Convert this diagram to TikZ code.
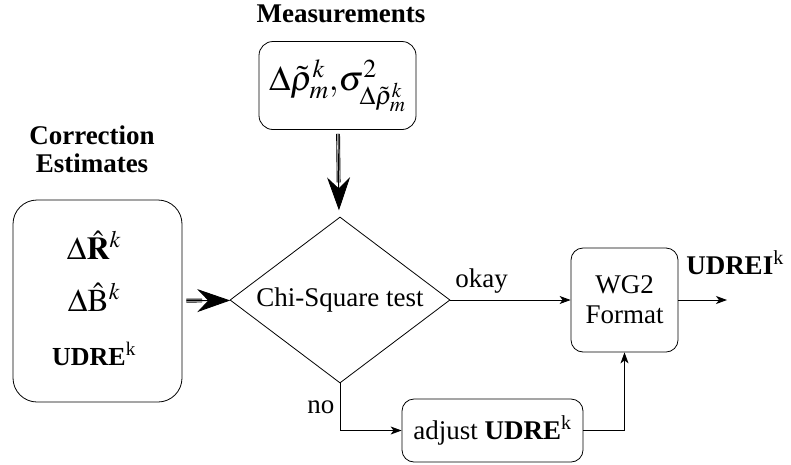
\documentclass[tikz,border=0pt]{standalone}
\usepackage{mathptmx}
\usepackage{fontspec}
\setmainfont{Liberation Serif}
\usetikzlibrary{shapes.geometric, arrows.meta, positioning}

\begin{document}
\begin{tikzpicture}[x=1pt, y=-1pt, font=\fontsize{27}{30}\selectfont,
        box/.style = {draw, rounded corners=12pt, line width=0.8pt, inner sep=0pt, align=center},
        test/.style = {draw, diamond, aspect=1.33, line width=0.8pt, inner sep=0pt, minimum width=220pt, minimum height=166pt},
        big/.style = {-{Stealth[length=33pt, width=23pt, inset=11pt]}, line width=0.9pt},
        trip/.style = {double, double distance=2pt, line width=0.9pt},
        flow/.style = {-{Stealth[length=11pt, width=8pt, inset=3pt]}, line width=0.8pt},
        head/.style = {font=\fontsize{27}{28}\selectfont\bfseries, align=center}]

        \useasboundingbox (0,0) rectangle (791,464);

        \node[box, minimum width=157pt, minimum height=88pt, rounded corners=14pt] (meas) at (337.5,85.5)
            {\fontsize{35}{38}\selectfont$\Delta\tilde{\rho}^k_m{,}\sigma^2_{\Delta\tilde{\rho}^k_m}$};
        \node[head] (mlab) at (341,14) {Measurements};

        \node[box, minimum width=169pt, minimum height=202pt, rounded corners=24pt] (corr) at (97.5,301) {};
        \node (rk) at (94,245) {\fontsize{32}{34}\selectfont$\Delta\hat{\mathbf{R}}^k$};
        \node (bk) at (94,297) {\fontsize{32}{34}\selectfont$\Delta\hat{\mathrm{B}}^k$};
        \node (uk) at (94,354) {\fontsize{26}{28}\selectfont\textbf{UDRE}\textsuperscript{k}};
        \node[head] (clab) at (92,149) {Correction\\Estimates};

        \node[test] (chi) at (340,300) {Chi-Square test};
        \node[box, minimum width=107pt, minimum height=104pt] (wg) at (624.5,300) {WG2\\Format};
        \node[box, minimum width=181pt, minimum height=63pt] (adj) at (492.5,430.5) {adjust \textbf{UDRE}\textsuperscript{k}};
        \coordinate (out) at (727,300);
        \node (udrei) at (735,263) {\textbf{UDREI}\textsuperscript{k}};

        \draw[trip, shorten <=4pt, shorten >=35pt] (meas) -- (chi);
        \draw[big, shorten <=4pt, shorten >=7pt] (meas) -- (chi);
        \draw[trip, shorten <=4pt, shorten >=28pt] (corr) -- (chi);
        \draw[big, shorten <=4pt] (corr) -- (chi);

        \draw[flow] (chi) -- (wg) node [pos=0.26, above=3pt] {okay};
        \draw[flow] (wg) -- (out);
        \draw[flow] (chi.south) |- (adj) node [pos=0.25, left=2pt] {no};
        \draw[flow] (adj) -| (wg);

    \end{tikzpicture}
\end{document}
